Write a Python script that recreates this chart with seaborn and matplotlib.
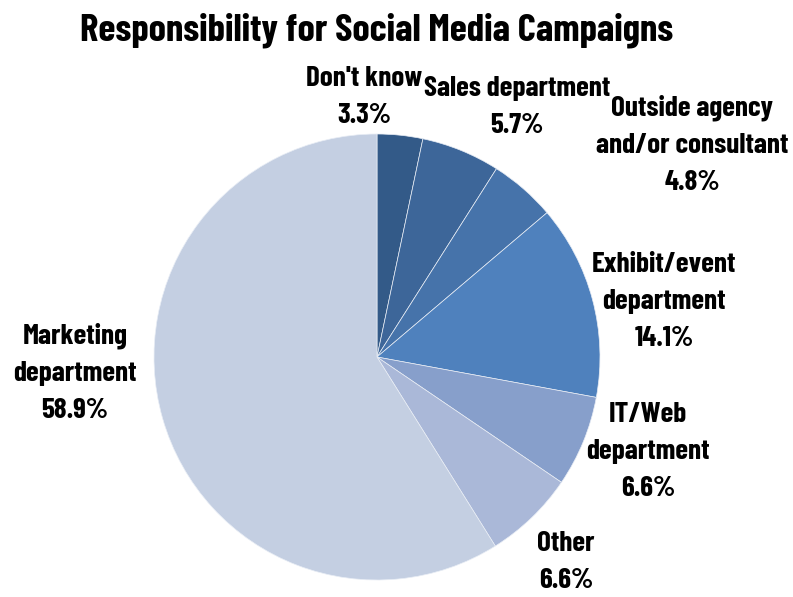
import matplotlib
matplotlib.use("Agg")
import matplotlib.pyplot as plt
import seaborn as sns

sns.set_theme(style="white")
plt.rcParams["font.family"] = ["Saira Extra Condensed", "Barlow Condensed",
                               "Roboto Condensed", "Oswald", "DejaVu Sans"]

categories = ["Don't know", "Sales department", "Outside agency\nand/or consultant",
              "Exhibit/event\ndepartment", "IT/Web\ndepartment", "Other",
              "Marketing\ndepartment"]
shares = [3.3, 5.7, 4.8, 14.1, 6.6, 6.6, 58.9]
colors = ["#335a88", "#3d6699", "#4673aa", "#4f81bd", "#879fcb", "#aab8d8", "#c4cfe2"]

# label anchor points in figure pixels (x from left, y from top)
label_pos = [(364, 97), (517, 107), (692, 145), (664, 302), (648, 452), (566, 562), (75, 373)]

W, H = 793, 597
fig = plt.figure(figsize=(W / 100, H / 100), dpi=100)
cx, cy, r = 377, 357, 223
ax = fig.add_axes([(cx - r) / W, (H - cy - r) / H, 2 * r / W, 2 * r / H])

ax.pie(shares, colors=colors, startangle=90, counterclock=False,
       wedgeprops=dict(edgecolor="#e8edf5", linewidth=0.5), radius=1.0)
ax.set_xlim(-1, 1)
ax.set_ylim(-1, 1)
ax.set_aspect("equal")
ax.axis("off")

for name, val, (px, py) in zip(categories, shares, label_pos):
    fig.text(px / W, 1 - py / H, f"{name}\n{val:.1f}%", ha="center", va="center",
             fontsize=21, fontweight="bold", linespacing=1.6, color="black")

fig.text(377 / W, 1 - 30 / H, "Responsibility for Social Media Campaigns",
         ha="center", va="center", fontsize=28, fontweight="bold", color="black")

fig.savefig("out.png", dpi=100, facecolor="white")
